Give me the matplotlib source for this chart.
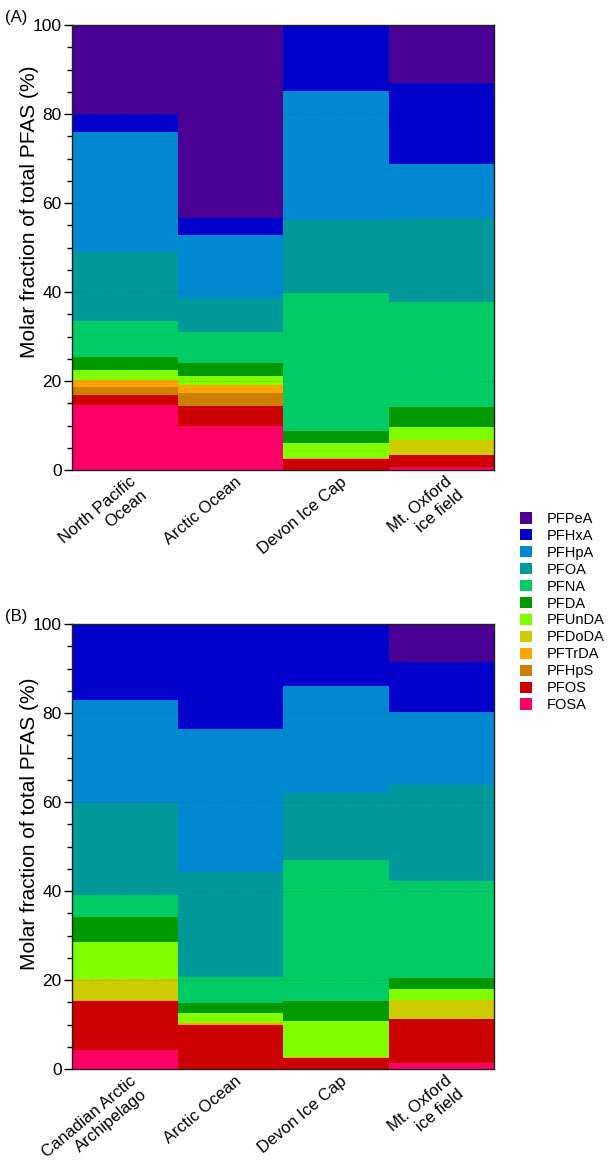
import matplotlib
matplotlib.use("Agg")
import matplotlib.pyplot as plt
from matplotlib.patches import Patch
import matplotlib.transforms as mtransforms
import numpy as np

plt.rcParams['font.family'] = ['Liberation Sans', 'DejaVu Sans']

compounds = ["PFPeA", "PFHxA", "PFHpA", "PFOA", "PFNA", "PFDA",
             "PFUnDA", "PFDoDA", "PFTrDA", "PFHpS", "PFOS", "FOSA"]
colors = ["#4B0096", "#0000CC", "#0088D0", "#009999", "#00CC66", "#009900",
          "#80FF00", "#CCCC00", "#FFA500", "#CC8000", "#CC0000", "#FF0066"]

sites_a = ["North Pacific\nOcean", "Arctic Ocean", "Devon Ice Cap", "Mt. Oxford\nice field"]
sites_b = ["Canadian Arctic\nArchipelago", "Arctic Ocean", "Devon Ice Cap", "Mt. Oxford\nice field"]

# molar fraction (%) per compound, one entry per site
panel_a = {
    "PFPeA":  [20.0, 43.3, 0.0, 13.0],
    "PFHxA":  [4.0, 4.0, 14.8, 18.3],
    "PFHpA":  [27.0, 14.0, 29.0, 12.4],
    "PFOA":   [15.5, 7.6, 16.4, 18.6],
    "PFNA":   [8.2, 7.1, 31.0, 23.5],
    "PFDA":   [2.8, 2.8, 2.7, 4.5],
    "PFUnDA": [2.2, 2.1, 3.4, 3.0],
    "PFDoDA": [0.0, 0.0, 0.0, 3.3],
    "PFTrDA": [1.6, 1.9, 0.2, 0.0],
    "PFHpS":  [1.8, 2.8, 0.0, 0.0],
    "PFOS":   [2.4, 4.5, 2.5, 2.65],
    "FOSA":   [14.5, 9.9, 0.0, 0.75],
}
panel_b = {
    "PFPeA":  [0.0, 0.0, 0.0, 8.5],
    "PFHxA":  [17.0, 23.6, 14.0, 11.3],
    "PFHpA":  [23.2, 32.1, 23.9, 16.4],
    "PFOA":   [20.7, 23.7, 15.1, 21.6],
    "PFNA":   [5.0, 5.8, 31.7, 21.7],
    "PFDA":   [5.5, 2.3, 4.5, 2.5],
    "PFUnDA": [8.4, 2.2, 8.2, 2.5],
    "PFDoDA": [4.7, 0.0, 0.0, 4.3],
    "PFTrDA": [0.2, 0.4, 0.2, 0.0],
    "PFHpS":  [0.0, 0.0, 0.0, 0.0],
    "PFOS":   [11.0, 9.9, 2.4, 9.9],
    "FOSA":   [4.3, 0.0, 0.0, 1.3],
}

fig = plt.figure(figsize=(6.16, 11.68), dpi=100)
ax_a = fig.add_axes([72/616, 1-470/1168, 422/616, 445/1168])
ax_b = fig.add_axes([72/616, 1-1069/1168, 422/616, 445/1168])


def draw(ax, data, sites, tag, ylab_y):
    x = np.arange(len(sites))
    bottom = np.zeros(len(sites))
    for comp, col in zip(compounds[::-1], colors[::-1]):
        vals = np.array(data[comp])
        ax.bar(x, vals, width=1.0, bottom=bottom, color=col, edgecolor='none', zorder=1)
        bottom += vals
    ax.set_xlim(-0.5, len(sites) - 0.5)
    ax.set_ylim(0, 100)
    ax.set_yticks([0, 20, 40, 60, 80, 100])
    ax.set_yticks(np.arange(0, 101, 5), minor=True)
    ax.tick_params(axis='y', which='major', length=6, width=1, labelsize=12.5,
                   direction='out', pad=1.5)
    ax.tick_params(axis='y', which='minor', length=3.5, width=1, direction='out')
    ax.tick_params(axis='x', length=0, pad=3)
    ax.set_xticks(x)
    ax.set_xticklabels(sites, rotation=40, ha='right', va='top',
                       rotation_mode='anchor', multialignment='right', fontsize=12)
    offset = mtransforms.ScaledTranslation(4/100, 0, fig.dpi_scale_trans)
    for lab in ax.get_xticklabels():
        lab.set_transform(lab.get_transform() + offset)
    for g in [20, 40, 60, 80]:
        ax.axhline(g, color='#333333', lw=0.7, ls=(0, (1, 2)), alpha=0.35, zorder=3)
    for s in ax.spines.values():
        s.set_linewidth(1.0)
        s.set_color('#222222')
    ax.set_ylabel("Molar fraction of total PFAS (%)", fontsize=15)
    ax.yaxis.set_label_coords(-0.078, ylab_y)
    ax.text(-0.159, 1.006, tag, transform=ax.transAxes, fontsize=12,
            ha='left', va='baseline')


draw(ax_a, panel_a, sites_a, "(A)", 0.58)
draw(ax_b, panel_b, sites_b, "(B)", 0.55)

handles = [Patch(facecolor=c, edgecolor='none', label=n) for n, c in zip(compounds, colors)]
fig.legend(handles=handles, loc='upper left', bbox_to_anchor=(520/616, 1-512/1168),
           frameon=False, fontsize=10.5, handlelength=0.85, handleheight=0.8,
           handletextpad=1.0, labelspacing=0.2, borderaxespad=0, borderpad=0)

fig.savefig("out.png", dpi=100)
